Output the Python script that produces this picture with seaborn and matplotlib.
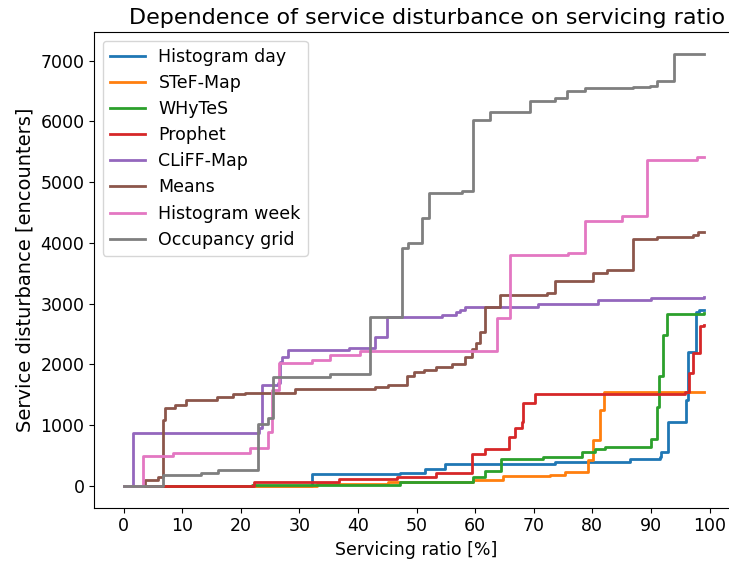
import matplotlib
matplotlib.use("Agg")
import matplotlib.pyplot as plt
import seaborn as sns
import pandas as pd

# ---- data (step positions in % and cumulative encounters) ----
hist_day_x = [0, 32.1, 47.2, 51.4, 54.9, 73.6, 86.4, 91.5, 91.8, 93.0, 96.0, 96.4, 97.7, 98.2, 99]
hist_day_y = [0, 190, 220, 275, 357, 390, 445, 480, 565, 1060, 1420, 2200, 2870, 2900, 2900]

stef_x = [0, 22, 33, 45.2, 59.7, 64.8, 72.8, 75.3, 79.3, 80.2, 81.3, 82.0, 99]
stef_y = [0, 5, 25, 71, 99, 160, 181, 236, 428, 758, 1252, 1540, 1554]

whytes_x = [0, 22, 47.2, 59.7, 61.7, 64.5, 71.6, 78.2, 80.5, 82.2, 90.1, 91.0, 91.4, 92.1, 92.7, 99]
whytes_y = [0, 16, 71, 143, 252, 440, 472, 565, 609, 648, 769, 1307, 1812, 2488, 2830, 2840]

prophet_x = [0, 22.2, 36.7, 46.6, 53.4, 59.4, 61.7, 65.7, 66.8, 68.0, 68.2, 70.2, 95.8, 96.5, 97.2, 98.3, 99]
prophet_y = [0, 71, 110, 153, 219, 522, 609, 812, 950, 1059, 1362, 1516, 1540, 1857, 2196, 2636, 2650]

cliff_x = [0, 1.7, 23.2, 23.6, 26.4, 26.7, 27.0, 28.1, 38.5, 42.9, 44.9, 54.3, 56.8, 57.4, 58.3, 70.7, 81, 90, 99]
cliff_y = [0, 878, 955, 1659, 1700, 2048, 2130, 2240, 2279, 2449, 2789, 2817, 2860, 2899, 2954, 3000, 3064, 3090, 3114]

means_x = [0, 3.7, 5.9, 6.8, 7.1, 8.8, 10.7, 15.9, 18.7, 20.7, 29.3, 42.9, 45.2, 48.3, 49.5, 51.2,
           53.4, 56.0, 58.3, 59.4, 60.1, 60.8, 61.7, 64.2, 72.2, 73.6, 80.2, 82.5, 87.0, 91.0, 97.2, 98.1, 99]
means_y = [0, 99, 153, 1087, 1280, 1334, 1417, 1471, 1510, 1527, 1593, 1626, 1669, 1812, 1870, 1911,
           1966, 2005, 2130, 2252, 2350, 2542, 2954, 3147, 3170, 3366, 3504, 3559, 4069, 4097, 4130, 4179, 4179]

hist_week_x = [0, 3.3, 8.5, 21.6, 24.7, 25.3, 26.6, 32.1, 35.2, 40.4, 63.7, 65.95, 75.9, 78.8, 85.0, 89.3, 97.8, 99]
hist_week_y = [0, 500, 538, 621, 895, 1582, 2032, 2076, 2158, 2229, 2762, 3805, 3830, 4354, 4437, 5371, 5409, 5409]

occ_x = [0, 6.7, 13.3, 16.2, 23.0, 24.7, 25.5, 35.2, 42.1, 47.5, 48.6, 50.9, 52.2, 57.7, 59.7, 62.5,
         69.3, 73.6, 75.6, 78.8, 87.0, 89.8, 91.0, 93.9, 99]
occ_y = [0, 181, 219, 264, 1021, 1115, 1790, 1845, 2779, 3916, 3998, 4410, 4822, 4849, 6019, 6150,
         6332, 6387, 6496, 6552, 6570, 6590, 6661, 7117, 7117]

series_names = ["Histogram day", "STeF-Map", "WHyTeS", "Prophet", "CLiFF-Map",
                "Means", "Histogram week", "Occupancy grid"]
series_x = [hist_day_x, stef_x, whytes_x, prophet_x, cliff_x, means_x, hist_week_x, occ_x]
series_y = [hist_day_y, stef_y, whytes_y, prophet_y, cliff_y, means_y, hist_week_y, occ_y]

xticks = list(range(0, 101, 10))
yticks = list(range(0, 7001, 1000))

# ---- plot ----
plt.rcParams["font.family"] = ["DejaVu Sans"]
colors = sns.color_palette("tab10", 8)

fig = plt.figure(figsize=(7.29, 5.66), dpi=100)
ax = fig.add_axes([94.2 / 729, 58.4 / 566, 644.6 / 729, 475.6 / 566])

for name, xs, ys, c in zip(series_names, series_x, series_y, colors):
    df = pd.DataFrame({"x": xs, "y": ys})
    sns.lineplot(data=df, x="x", y="y", ax=ax, color=c, label=name,
                 drawstyle="steps-post", estimator=None, linewidth=2, sort=False)

ax.set_xlim(-5, 105)
ax.set_ylim(-356, 7473)
ax.set_xticks(xticks)
ax.set_yticks(yticks)
ax.tick_params(labelsize=12.5)
ax.set_xlabel("Servicing ratio [%]", fontsize=12.5)
ax.set_ylabel("Service disturbance [encounters]", fontsize=14)
ax.set_title("Dependence of service disturbance on servicing ratio", fontsize=16, x=0.517)
ax.legend(loc="upper left", fontsize=12.5, labelspacing=0.47)

fig.savefig("out.png", dpi=100)
